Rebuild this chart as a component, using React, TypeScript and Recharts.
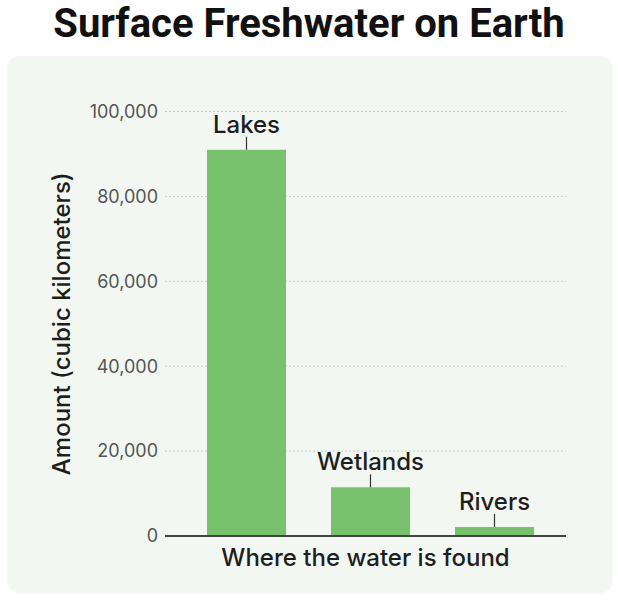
import React from 'react';
import { BarChart, Bar, XAxis, YAxis, CartesianGrid, LabelList, Label } from 'recharts';

const categories = ['Lakes', 'Wetlands', 'Rivers'];
const amounts = [91000, 11470, 2120];
const yTicks = [0, 20000, 40000, 60000, 80000, 100000];
const title = 'Surface Freshwater on Earth';
const yTitle = 'Amount (cubic kilometers)';
const xTitle = 'Where the water is found';

const data = categories.map((name, i) => ({ name, amount: amounts[i] }));

const FONT = "Inter, 'Open Sans', 'Liberation Sans', sans-serif";

const BarTopLabel = (props: any) => {
  const { x, y, width, value } = props;
  const cx = x + width / 2;
  return (
    <g>
      <text x={cx} y={y - 17} textAnchor="middle" fontFamily={FONT} fontWeight={500} fontSize={24} fill="#1e1e1e">
        {value}
      </text>
      <line x1={cx} x2={cx} y1={y - 13} y2={y} stroke="#333" strokeWidth={1.2} />
    </g>
  );
};

export default function App() {
  return (
    <div style={{ position: 'absolute', left: 0, top: 0, width: 618, height: 600, background: '#fff' }}>
      <div
        style={{
          position: 'absolute', left: 0, top: 0, width: 618, textAlign: 'center',
          fontFamily: "Roboto, 'Liberation Sans', sans-serif",
          fontWeight: 700, fontSize: 40, color: '#111', lineHeight: '48px',
        }}
      >
        {title}
      </div>
      <div
        style={{
          position: 'absolute', left: 8, top: 56, width: 604, height: 536,
          background: '#f3f7f1', borderRadius: 12,
          boxShadow: '0 1px 3px rgba(0,0,0,0.06)',
        }}
      />
      <div style={{ position: 'absolute', left: 0, top: 0 }}>
        <BarChart
          width={618}
          height={600}
          data={data}
          margin={{ top: 111.5, right: 52, left: 105, bottom: 24 }}
          barCategoryGap={0}
        >
          <CartesianGrid vertical={false} stroke="#c9c9c9" strokeDasharray="2 2" />
          <XAxis
            dataKey="name"
            tick={false}
            tickLine={false}
            axisLine={{ stroke: '#444', strokeWidth: 2 }}
            height={40}
            padding={{ left: 19, right: 10 }}
          >
            <Label
              content={(p: any) => {
                const vb = p.viewBox;
                return (
                  <text x={vb.x + vb.width / 2} y={vb.y + 30} textAnchor="middle" fontFamily={FONT} fontWeight={500} fontSize={24} fill="#1e1e1e">
                    {xTitle}
                  </text>
                );
              }}
            />
          </XAxis>
          <YAxis
            width={60}
            domain={[0, 100000]}
            ticks={yTicks}
            tickFormatter={(v: number) => v.toLocaleString('en-US')}
            axisLine={false}
            tickLine={false}
            tickSize={0}
            tickMargin={7}
            tick={{ fill: '#555', fontSize: 18, fontFamily: FONT }}
          >
            <Label
              content={(p: any) => {
                const vb = p.viewBox;
                const cx = vb.x - 44;
                const cy = vb.y + vb.height / 2;
                return (
                  <text x={cx} y={cy} transform={`rotate(-90 ${cx} ${cy})`} textAnchor="middle" dominantBaseline="central" fontFamily={FONT} fontWeight={500} fontSize={24} fill="#1e1e1e">
                    {yTitle}
                  </text>
                );
              }}
            />
          </YAxis>
          <Bar dataKey="amount" fill="#78c26e" barSize={79} isAnimationActive={false}>
            <LabelList dataKey="name" content={BarTopLabel} />
          </Bar>
        </BarChart>
      </div>
    </div>
  );
}
